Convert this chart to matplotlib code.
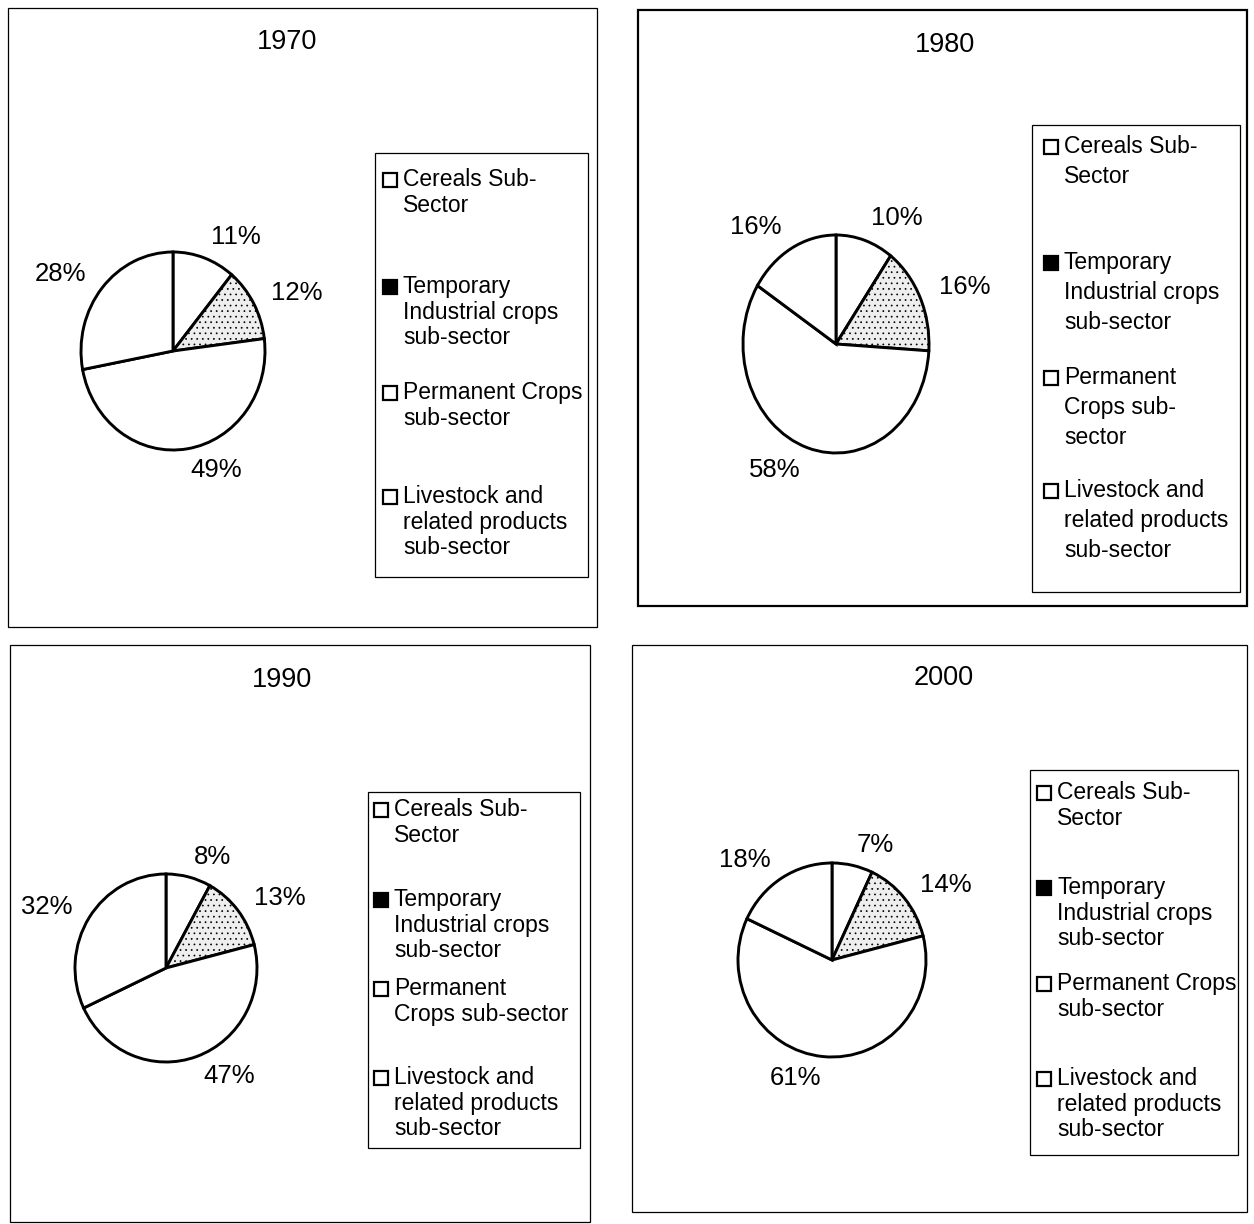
import matplotlib.pyplot as plt
from matplotlib.patches import Rectangle

plt.rcParams['font.family'] = ['Liberation Sans', 'DejaVu Sans']
plt.rcParams['hatch.linewidth'] = 0.5

W, H = 1254, 1224

# ---------------- data ----------------
years = ['1970', '1980', '1990', '2000']
cereals = [11, 10, 8, 7]
temporary = [12, 16, 13, 14]
permanent = [49, 58, 47, 61]
livestock = [28, 16, 32, 18]

legend_labels = [
    ["Cereals Sub-\nSector", "Temporary\nIndustrial crops\nsub-sector",
     "Permanent Crops\nsub-sector", "Livestock and\nrelated products\nsub-sector"],
    ["Cereals Sub-\nSector", "Temporary\nIndustrial crops\nsub-sector",
     "Permanent\nCrops sub-\nsector", "Livestock and\nrelated products\nsub-sector"],
    ["Cereals Sub-\nSector", "Temporary\nIndustrial crops\nsub-sector",
     "Permanent\nCrops sub-sector", "Livestock and\nrelated products\nsub-sector"],
    ["Cereals Sub-\nSector", "Temporary\nIndustrial crops\nsub-sector",
     "Permanent Crops\nsub-sector", "Livestock and\nrelated products\nsub-sector"],
]

# ---------------- layout (pixels) ----------------
panel_boxes = [(8, 8, 597, 627), (638, 10, 1247, 606),
               (10, 645, 590, 1222), (632, 645, 1247, 1212)]
panel_lw = [0.9, 1.6, 0.9, 0.9]
title_pos = [(287, 42), (945, 45), (282, 680), (944, 678)]
# centre x, centre y, radius x, radius y
pie_geom = [(173, 351, 92, 99), (836, 344, 93, 109),
            (166, 968, 91, 94), (832, 960, 94, 97)]
legend_boxes = [(375, 153, 588, 577), (1032, 125, 1240, 592),
                (368, 792, 580, 1148), (1030, 770, 1238, 1155)]
legend_rows = [[180, 287, 393, 497], [147, 263, 378, 491],
               [810, 900, 989, 1078], [793, 888, 984, 1079]]
legend_mark_x = [383, 1044, 374, 1037]
legend_linespacing = [1.15, 1.4, 1.15, 1.15]


def px_axes(fig, x0, y0, x1, y1):
    return fig.add_axes([x0 / W, 1 - y1 / H, (x1 - x0) / W, (y1 - y0) / H])


fig = plt.figure(figsize=(W / 100, H / 100), dpi=100)
fig.patch.set_facecolor('white')

for i, year in enumerate(years):
    # panel frame
    x0, y0, x1, y1 = panel_boxes[i]
    fig.add_artist(Rectangle((x0 / W, 1 - y1 / H), (x1 - x0) / W, (y1 - y0) / H,
                             transform=fig.transFigure, fill=False,
                             edgecolor='black', lw=panel_lw[i]))
    tx, ty = title_pos[i]
    fig.text(tx / W, 1 - ty / H, year, ha='center', va='center', fontsize=19.5)

    # pie
    cx, cy, rx, ry = pie_geom[i]
    ax = px_axes(fig, cx - rx, cy - ry, cx + rx, cy + ry)
    vals = [cereals[i], temporary[i], permanent[i], livestock[i]]
    wedges, texts = ax.pie(vals, labels=[f"{v}%" for v in vals], startangle=90,
                           counterclock=False, radius=1, labeldistance=1.22,
                           colors=['white', '#eeeeee', 'white', 'white'],
                           wedgeprops=dict(edgecolor='black', linewidth=2.1),
                           textprops=dict(fontsize=18.5))
    wedges[1].set_hatch('...')
    ax.set_aspect('auto')
    ax.set_xlim(-1, 1)
    ax.set_ylim(-1, 1)
    for w in wedges:
        w.set_clip_on(False)

    # legend
    lx0, ly0, lx1, ly1 = legend_boxes[i]
    fig.add_artist(Rectangle((lx0 / W, 1 - ly1 / H), (lx1 - lx0) / W, (ly1 - ly0) / H,
                             transform=fig.transFigure, fill=False,
                             edgecolor='black', lw=0.9))
    mx = legend_mark_x[i]
    for k, label in enumerate(legend_labels[i]):
        ry_ = legend_rows[i][k]
        face = 'black' if k == 1 else 'white'
        fig.add_artist(Rectangle((mx / W, 1 - (ry_ + 7) / H), 14 / W, 14 / H,
                                 transform=fig.transFigure, facecolor=face,
                                 edgecolor='black', lw=1.6))
        fig.text((mx + 20) / W, 1 - (ry_ - 12) / H, label, ha='left', va='top',
                 fontsize=16.5, linespacing=legend_linespacing[i])

fig.savefig('out.png', dpi=100, facecolor='white')
